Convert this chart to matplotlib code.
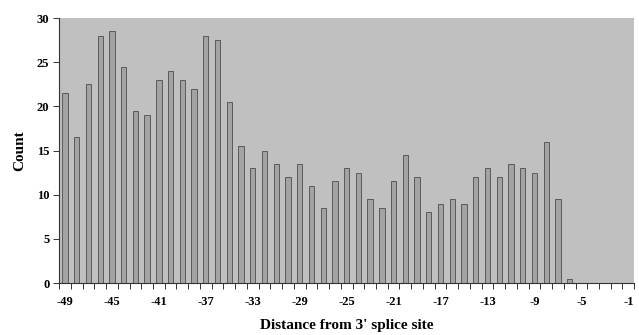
import numpy as np
import matplotlib
matplotlib.use("Agg")
import matplotlib.pyplot as plt
from matplotlib.ticker import FixedLocator

# distance from 3' splice site (-49 .. -1) and counts
distance = list(range(-49, 0))
counts = [21.5, 16.5, 22.5, 28, 28.5, 24.5, 19.5, 19, 23, 24,
          23, 22, 28, 27.5, 20.5, 15.5, 13, 15, 13.5, 12,
          13.5, 11, 8.5, 11.5, 13, 12.5, 9.5, 8.5, 11.5, 14.5,
          12, 8, 9, 9.5, 9, 12, 13, 12, 13.5, 13,
          12.5, 16, 9.5, 0.5, 0, 0, 0, 0, 0]
tick_labels = [str(d) for d in range(-49, 0, 4)]

plt.rcParams["font.family"] = ["Liberation Serif", "DejaVu Serif"]
plt.rcParams["font.weight"] = "bold"

fig = plt.figure(figsize=(6.39, 3.35), dpi=100)
ax = fig.add_axes([0.0925, 0.155, 0.9, 0.791])
ax.set_facecolor("#c0c0c0")

ax.bar(distance, counts, width=0.45, color="#a3a3a3", edgecolor="#5a5a5a",
       linewidth=0.7, zorder=2)

ax.set_xlim(-49.5, -0.5)
ax.set_ylim(0, 30)
ax.set_yticks(range(0, 31, 5))
ax.set_xticks(range(-49, 0, 4))
ax.set_xticklabels(tick_labels)
ax.xaxis.set_minor_locator(FixedLocator(np.arange(-49.5, 0, 1)))
ax.tick_params(axis="x", which="major", length=0, pad=9, labelsize=9)
ax.tick_params(axis="x", which="minor", length=4, width=0.7, color="#333")
ax.tick_params(axis="y", length=4, width=0.7, color="#333", labelsize=9, pad=3)

for s in ("top", "right"):
    ax.spines[s].set_visible(False)
for s in ("left", "bottom"):
    ax.spines[s].set_color("#333")
    ax.spines[s].set_linewidth(0.8)

ax.set_ylabel("Count", fontsize=11, fontweight="bold", labelpad=8)
ax.set_xlabel("Distance from 3' splice site", fontsize=11, fontweight="bold", labelpad=8)

fig.savefig("out.png", dpi=100)
